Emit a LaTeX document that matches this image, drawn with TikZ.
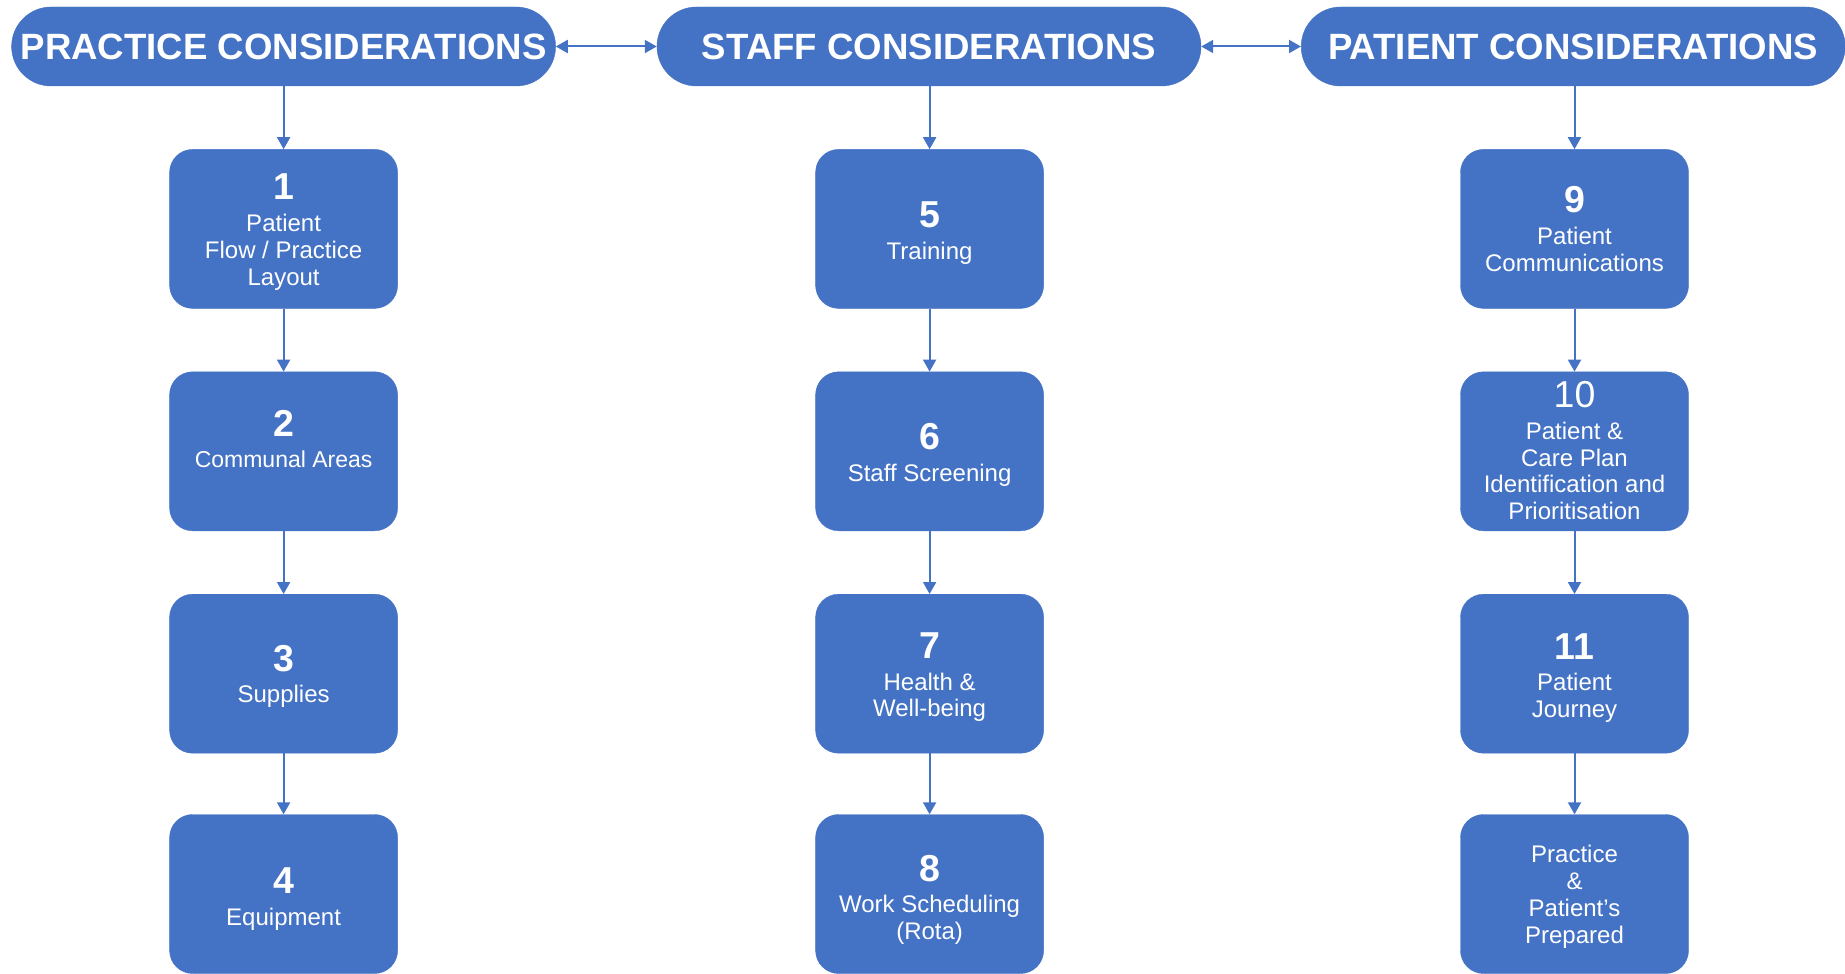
\documentclass[tikz,border=0pt]{standalone}
\usepackage{fontspec}
\setmainfont{Liberation Sans}
\usetikzlibrary{shapes.misc,arrows.meta}
\definecolor{oblue}{HTML}{4472C4}
\tikzset{
  header/.style={rounded rectangle, fill=oblue, draw=oblue, text=white,
    minimum width=544pt, minimum height=79pt, inner sep=0pt,
    font=\fontsize{36.6}{40}\selectfont\bfseries},
  stepbox/.style={rectangle, rounded corners=23pt, fill=oblue, draw=oblue, text=white,
    minimum width=228pt, minimum height=159pt, inner sep=0pt,
    font=\fontsize{24}{26.9}\selectfont},
  % first baseline lies #1/2 above the box centre
  tb/.style={text height=0pt, text depth=#1},
  conn/.style={draw=oblue, line width=2pt, -{Triangle[length=12pt,width=13pt]}},
  biconn/.style={draw=oblue, line width=2pt, {Triangle[length=12pt,width=13pt]}-{Triangle[length=12pt,width=13pt]}},
}
\newcommand{\bt}[1]{\begin{tabular}[t]{@{}c@{}}#1\end{tabular}}
\newcommand{\nb}[1]{{\fontsize{37.5}{38}\selectfont\bfseries #1}\\[4.6pt]}
\newcommand{\nr}[1]{{\fontsize{37.5}{38}\selectfont #1}\\[4.6pt]}
\begin{document}
\begin{tikzpicture}[x=1pt,y=-1pt]
\useasboundingbox (0,0) rectangle (1845,974);
% headers
\node[header] (h1) at (283.6,46.5) {PRACTICE CONSIDERATIONS};
\node[header] (h2) at (929.0,46.5) {STAFF CONSIDERATIONS};
\node[header] (h3) at (1573.2,46.5) {PATIENT CONSIDERATIONS};
% column 1
\node[stepbox,tb=58.4pt] (b1) at (283.6,228.9) {\bt{\nb{1}Patient\\Flow / Practice\\Layout}};
\node[stepbox,tb=30pt,font=\fontsize{23}{26.9}\selectfont] (b2) at (283.6,451.3) {\bt{\nb{2}Communal Areas}};
\node[stepbox,tb=4.6pt] (b3) at (283.6,673.7) {\bt{\nb{3}Supplies}};
\node[stepbox,tb=0.4pt] (b4) at (283.6,894) {\bt{\nb{4}Equipment}};
% column 2
\node[stepbox,tb=2.8pt] (b5) at (929.6,228.9) {\bt{\nb{5}Training}};
\node[stepbox,tb=3.6pt] (b6) at (929.6,451.3) {\bt{\nb{6}Staff Screening}};
\node[stepbox,tb=30.4pt] (b7) at (929.6,673.7) {\bt{\nb{7}Health \&\\Well-being}};
\node[stepbox,tb=25.6pt] (b8) at (929.6,894) {\bt{\nb{8}Work Scheduling\\(Rota)}};
% column 3
\node[stepbox,tb=32.2pt] (b9) at (1574.5,228.9) {\bt{\nb{9}Patient\\Communications}};
\node[stepbox,tb=87.4pt] (b10) at (1574.5,451.3) {\bt{\nr{10}Patient \&\\Care Plan\\Identification and\\Prioritisation}};
\node[stepbox,tb=29.4pt] (b11) at (1574.5,673.7) {\bt{\nb{11}Patient\\Journey}};
\node[stepbox,tb=62.8pt] (b12) at (1574.5,894) {\bt{Practice\\\&\\Patient’s\\Prepared}};
% connectors
\draw[biconn] (h1.east) -- (h2.west);
\draw[biconn] (h2.east) -- (h3.west);
\draw[conn] (h1.south) -- (b1.north);
\draw[conn] (b1) -- (b2);
\draw[conn] (b2) -- (b3);
\draw[conn] (b3) -- (b4);
\draw[conn] (h2.south -| b5.north) -- (b5.north);
\draw[conn] (b5) -- (b6);
\draw[conn] (b6) -- (b7);
\draw[conn] (b7) -- (b8);
\draw[conn] (h3.south -| b9.north) -- (b9.north);
\draw[conn] (b9) -- (b10);
\draw[conn] (b10) -- (b11);
\draw[conn] (b11) -- (b12);
\end{tikzpicture}
\end{document}
